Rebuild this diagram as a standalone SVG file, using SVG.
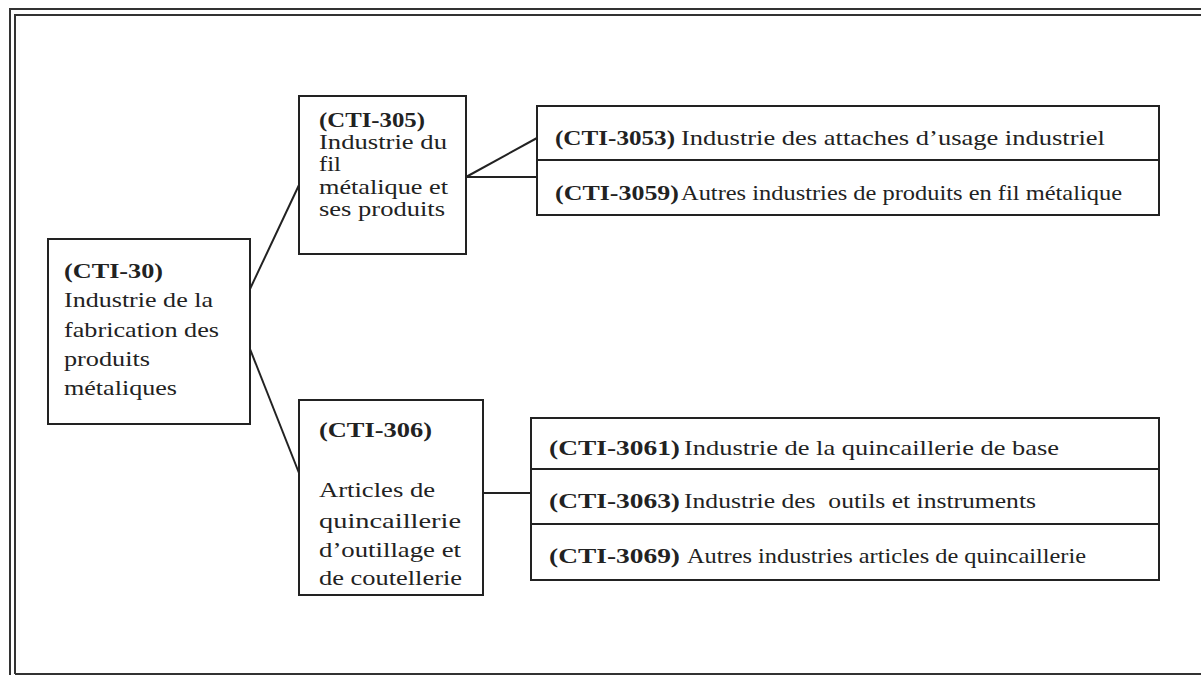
<svg xmlns="http://www.w3.org/2000/svg" width="1201" height="675" viewBox="0 0 1201 675">
  <style>
    .frame { fill: none; stroke: #333; stroke-width: 2; }
    .box { fill: #fff; stroke: #222; stroke-width: 2; }
    .div { stroke: #222; stroke-width: 2; }
    .link { fill: none; stroke: #222; stroke-width: 2; }
    .t { font-family: "Liberation Serif", "Times New Roman", serif; font-size: 21px; fill: #222; }
    .s { font-family: "Liberation Serif", "Times New Roman", serif; font-size: 22px; fill: #222; }
    .b { font-weight: bold; }
  </style>
  <rect width="1201" height="675" fill="#fff"/>

  <!-- double border -->
  <g id="frame">
    <path class="frame" d="M10 675 V9 H1201"/>
    <path class="frame" d="M15 674 V15 H1201 M15 674 H1201"/>
  </g>

  <!-- connectors -->
  <g id="connectors">
    <line class="link" x1="250" y1="289" x2="299" y2="185"/>
    <line class="link" x1="250" y1="349" x2="299" y2="473"/>
    <line class="link" x1="466" y1="177" x2="537" y2="138"/>
    <line class="link" x1="466" y1="177" x2="537" y2="177"/>
    <line class="link" x1="483" y1="493" x2="531" y2="493"/>
  </g>

  <g id="cti-30">
    <rect class="box" x="48" y="239" width="202" height="185"/>
    <text class="t b" x="64" y="278" textLength="99" lengthAdjust="spacingAndGlyphs">(CTI-30)</text>
    <text class="t" x="64" y="307" textLength="149" lengthAdjust="spacingAndGlyphs">Industrie de la</text>
    <text class="t" x="64" y="337" textLength="155" lengthAdjust="spacingAndGlyphs">fabrication des</text>
    <text class="t" x="64" y="366" textLength="86" lengthAdjust="spacingAndGlyphs">produits</text>
    <text class="t" x="64" y="395" textLength="113" lengthAdjust="spacingAndGlyphs">métaliques</text>
  </g>

  <g id="cti-305">
    <rect class="box" x="299" y="96" width="167" height="158"/>
    <text class="t b" x="319" y="127" textLength="106" lengthAdjust="spacingAndGlyphs">(CTI-305)</text>
    <text class="t" x="319" y="149" textLength="128" lengthAdjust="spacingAndGlyphs">Industrie du</text>
    <text class="t" x="319" y="171" textLength="22" lengthAdjust="spacingAndGlyphs">fil</text>
    <text class="t" x="319" y="194" textLength="129" lengthAdjust="spacingAndGlyphs">métalique et</text>
    <text class="t" x="319" y="216" textLength="126" lengthAdjust="spacingAndGlyphs">ses produits</text>
  </g>

  <g id="cti-306">
    <rect class="box" x="299" y="400" width="184" height="195"/>
    <text class="t b" x="319" y="437" textLength="113" lengthAdjust="spacingAndGlyphs">(CTI-306)</text>
    <text class="t" x="319" y="497" textLength="116" lengthAdjust="spacingAndGlyphs">Articles de</text>
    <text class="t" x="319" y="528" textLength="142" lengthAdjust="spacingAndGlyphs">quincaillerie</text>
    <text class="t" x="319" y="557" textLength="142" lengthAdjust="spacingAndGlyphs">d’outillage et</text>
    <text class="t" x="319" y="585" textLength="143" lengthAdjust="spacingAndGlyphs">de coutellerie</text>
  </g>

  <g id="cti-305-detail">
    <rect class="box" x="537" y="106" width="622" height="109"/>
    <line class="div" x1="537" y1="160" x2="1159" y2="160"/>
    <g id="cti-3053">
      <text class="s b" x="555" y="145" textLength="120" lengthAdjust="spacingAndGlyphs">(CTI-3053)</text>
      <text class="s" x="681" y="145" textLength="424" lengthAdjust="spacingAndGlyphs">Industrie des attaches d’usage industriel</text>
    </g>
    <g id="cti-3059">
      <text class="s b" x="555" y="200" textLength="124" lengthAdjust="spacingAndGlyphs">(CTI-3059)</text>
      <text class="s" x="681" y="200" textLength="441" lengthAdjust="spacingAndGlyphs">Autres industries de produits en fil métalique</text>
    </g>
  </g>

  <g id="cti-306-detail">
    <rect class="box" x="531" y="418" width="628" height="162"/>
    <line class="div" x1="531" y1="469" x2="1159" y2="469"/>
    <line class="div" x1="531" y1="524" x2="1159" y2="524"/>
    <g id="cti-3061">
      <text class="s b" x="549" y="455" textLength="131" lengthAdjust="spacingAndGlyphs">(CTI-3061)</text>
      <text class="s" x="684" y="455" textLength="375" lengthAdjust="spacingAndGlyphs">Industrie de la quincaillerie de base</text>
    </g>
    <g id="cti-3063">
      <text class="s b" x="549" y="508" textLength="131" lengthAdjust="spacingAndGlyphs">(CTI-3063)</text>
      <text class="s" x="684" y="508" textLength="352" lengthAdjust="spacingAndGlyphs" xml:space="preserve">Industrie des  outils et instruments</text>
    </g>
    <g id="cti-3069">
      <text class="s b" x="549" y="563" textLength="131" lengthAdjust="spacingAndGlyphs">(CTI-3069)</text>
      <text class="s" x="687" y="563" textLength="399" lengthAdjust="spacingAndGlyphs">Autres industries articles de quincaillerie</text>
    </g>
  </g>
</svg>
